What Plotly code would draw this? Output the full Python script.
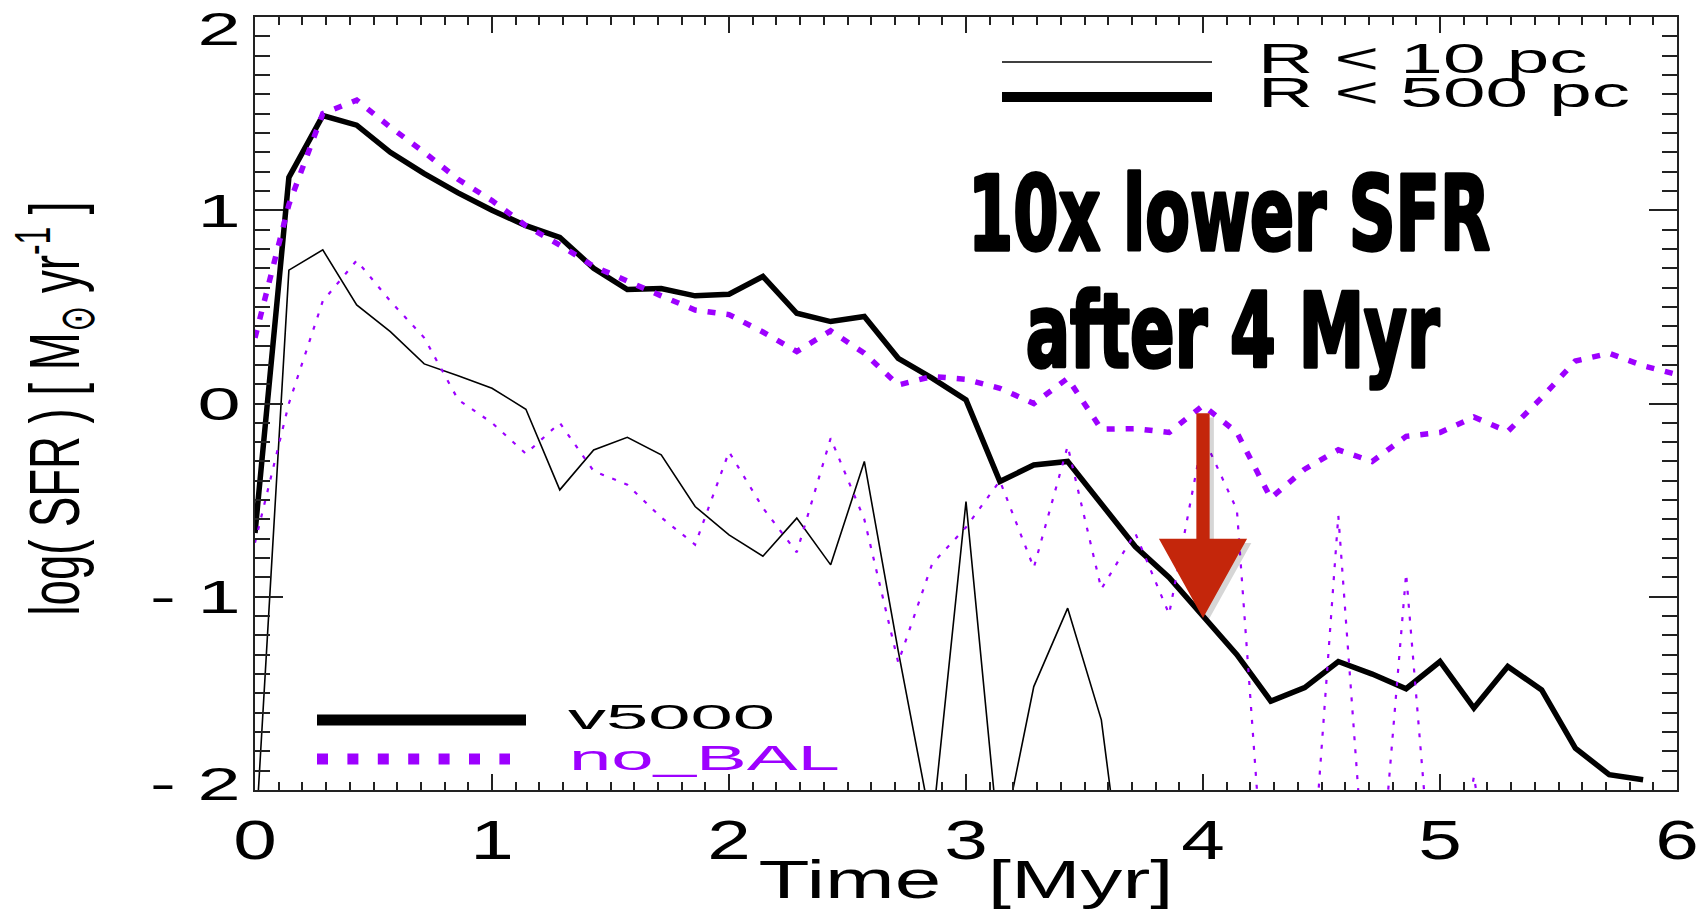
import json
import plotly.graph_objects as go

# ---------------- data ----------------
time_myr = [0.000, 0.143, 0.286, 0.429, 0.571, 0.714, 0.857, 1.000, 1.143, 1.286,
            1.429, 1.571, 1.714, 1.857, 2.000, 2.143, 2.286, 2.429, 2.571, 2.714,
            2.857, 3.000, 3.143, 3.286, 3.429, 3.571, 3.714, 3.857, 4.000, 4.143,
            4.286, 4.429, 4.571, 4.714, 4.857, 5.000, 5.143, 5.286, 5.429, 5.571,
            5.714, 5.857, 6.000]

# v5000, R < 500 pc (thick black)
v5000_r500 = [-0.67, 1.17, 1.49, 1.44, 1.30, 1.19, 1.09, 1.00, 0.92, 0.86,
              0.70, 0.59, 0.595, 0.557, 0.565, 0.657, 0.467, 0.424, 0.45, 0.234,
              0.131, 0.019, -0.404, -0.318, -0.30, -0.52, -0.74, -0.90, -1.10, -1.30,
              -1.54, -1.47, -1.335, -1.40, -1.476, -1.335, -1.576, -1.361, -1.482, -1.783,
              -1.921, -1.947]

# v5000, R < 10 pc (thin black) -- values below -2 fall off the chart
v5000_r10 = [-2.3, 0.69, 0.795, 0.51, 0.372, 0.205, 0.143, 0.079, -0.03, -0.447,
             -0.24, -0.175, -0.266, -0.533, -0.68, -0.79, -0.593, -0.835, -0.30, -1.28,
             -2.2, -0.507, -2.33, -1.465, -1.059, -1.637, -3.0]

# no_BAL, R < 500 pc (thick purple dotted)
nobal_r500 = [0.34, 1.03, 1.50, 1.57, 1.43, 1.30, 1.16, 1.05, 0.92, 0.82,
              0.71, 0.63, 0.557, 0.484, 0.46, 0.37, 0.269, 0.376, 0.26, 0.096,
              0.14, 0.125, 0.079, 0.0, 0.13, -0.133, -0.13, -0.15, -0.01, -0.15,
              -0.49, -0.34, -0.24, -0.30, -0.17, -0.15, -0.07, -0.145, 0.03, 0.22,
              0.26, 0.195, 0.15]

# no_BAL, R < 10 pc (thin purple dotted)
nobal_r10 = [-0.72, 0.0, 0.53, 0.74, 0.53, 0.34, 0.02, -0.10, -0.26, -0.10,
             -0.35, -0.42, -0.59, -0.73, -0.25, -0.54, -0.77, -0.18, -0.60, -1.34,
             -0.83, -0.64, -0.40, -0.85, -0.22, -0.96, -0.67, -1.09, -0.17, -0.55,
             -3.0, -3.0, -0.58, -3.0, -0.88, -3.0, -1.93, -3.0, -3.0, -3.0,
             -3.0, -3.0, -3.0]

x_ticks = [0, 1, 2, 3, 4, 5, 6]
x_ticktext = ["0", "1", "2", "3", "4", "5", "6"]
y_ticks = [-2, -1, 0, 1, 2]
y_ticktext = ["- 2", "- 1", "0", "1", "2"]

# ---------------- styles ----------------
PURPLE = "#9d00ff"
AX = "#222222"
FONT = "Liberation Sans, Arial, Helvetica, sans-serif"
BIG = "Liberation Sans Narrow, DejaVu Sans Condensed, Liberation Sans, sans-serif"

W, H = 1705, 909
L, R, T, B = 255, 28, 17, 119
PW, PH = W - L - R, H - T - B


def px(x):
    return (x - L) / PW


def py(y):
    return (H - B - y) / PH


fig = go.Figure()
fig.add_trace(go.Scatter(x=time_myr[:len(v5000_r10)], y=v5000_r10, mode="lines",
                         line=dict(color="black", width=1.6), name="v5000 R<10pc"))
fig.add_trace(go.Scatter(x=time_myr[:len(v5000_r500)], y=v5000_r500, mode="lines",
                         line=dict(color="black", width=5.5), name="v5000 R<500pc"))
fig.add_trace(go.Scatter(x=time_myr[:len(nobal_r10)], y=nobal_r10, mode="lines",
                         line=dict(color=PURPLE, width=2.2, dash="4px,9px"),
                         name="no_BAL R<10pc"))
fig.add_trace(go.Scatter(x=time_myr[:len(nobal_r500)], y=nobal_r500, mode="lines",
                         line=dict(color=PURPLE, width=5.5, dash="8px,11px"),
                         name="no_BAL R<500pc"))

shapes = []
# top-right legend lines
shapes.append(dict(type="line", xref="paper", yref="paper", x0=px(1002), x1=px(1212),
                   y0=py(62), y1=py(62), line=dict(color="black", width=1.6)))
shapes.append(dict(type="line", xref="paper", yref="paper", x0=px(1002), x1=px(1212),
                   y0=py(97), y1=py(97), line=dict(color="black", width=10)))
# bottom-left legend lines
shapes.append(dict(type="line", xref="paper", yref="paper", x0=px(317), x1=px(526),
                   y0=py(720), y1=py(720), line=dict(color="black", width=11)))
shapes.append(dict(type="line", xref="paper", yref="paper", x0=px(317), x1=px(510),
                   y0=py(759), y1=py(759), line=dict(color=PURPLE, width=11, dash="11px,19.4px")))

# red arrow (with a soft offset shadow) pointing to t = 4 Myr
ax_c, hw, hh = 4.0, 0.028, 0.186
y_top, y_base, y_tip = -0.05, -0.70, -1.11


def arrow_path(dx=0.0, dy=0.0):
    pts = [(ax_c - hw, y_top), (ax_c + hw, y_top), (ax_c + hw, y_base), (ax_c + hh, y_base),
           (ax_c, y_tip), (ax_c - hh, y_base), (ax_c - hw, y_base)]
    return "M " + " L ".join(f"{x + dx:.4f},{y + dy:.4f}" for x, y in pts) + " Z"


shapes.append(dict(type="path", xref="x", yref="y", path=arrow_path(0.018, -0.022),
                   fillcolor="rgba(0,0,0,0.16)", line=dict(width=0)))
shapes.append(dict(type="path", xref="x", yref="y", path=arrow_path(),
                   fillcolor="#c4260b", line=dict(width=0)))

annotations = [
    dict(text="R &lt; 10 pc<br>R &lt; 500 pc", xref="paper", yref="paper",
         x=px(1256), y=py(32.5), xanchor="left", yanchor="top", align="left",
         showarrow=False, font=dict(family=FONT, size=42, color="black")),
    dict(text="v5000", xref="paper", yref="paper", x=px(566), y=py(716),
         xanchor="left", yanchor="middle", showarrow=False,
         font=dict(family=FONT, size=36, color="black")),
    dict(text="no_BAL", xref="paper", yref="paper", x=px(567), y=py(757),
         xanchor="left", yanchor="middle", showarrow=False,
         font=dict(family=FONT, size=35, color=PURPLE)),
    dict(text="10x lower SFR", xref="paper", yref="paper", x=px(1229), y=py(214),
         xanchor="center", yanchor="middle", showarrow=False,
         font=dict(family=BIG, size=103, color="black", weight="bold")),
    dict(text="after 4 Myr", xref="paper", yref="paper", x=px(1232), y=py(331),
         xanchor="center", yanchor="middle", showarrow=False,
         font=dict(family=BIG, size=103, color="black", weight="bold")),
]

axis_common = dict(showline=True, linewidth=2, linecolor=AX, mirror="allticks",
                   ticks="inside", tickwidth=2, tickcolor=AX, showgrid=False,
                   zeroline=False, tickmode="array", ticklabeloverflow="allow",
                   automargin=False)

fig.update_layout(
    width=W, height=H, autosize=False,
    margin=dict(l=L, r=R, t=T, b=B, pad=0, autoexpand=False),
    paper_bgcolor="white", plot_bgcolor="white", showlegend=False,
    xaxis=dict(range=[0, 6], tickvals=x_ticks, ticktext=x_ticktext, ticklen=16,
               minor=dict(dtick=0.1, ticks="inside", ticklen=8, tickwidth=2, tickcolor=AX),
               tickfont=dict(family=FONT, size=56, color="black"),
               title=dict(text="Time &nbsp;[Myr]", standoff=0,
                          font=dict(family=FONT, size=53, color="black")),
               **axis_common),
    yaxis=dict(range=[-2, 2], tickvals=y_ticks, ticktext=y_ticktext, ticklen=28,
               minor=dict(dtick=0.1, ticks="inside", ticklen=15, tickwidth=2, tickcolor=AX),
               tickfont=dict(family=FONT, size=47, color="black"),
               title=dict(text="log( SFR ) [ M<sub>⊙</sub> yr<sup>-1</sup> ]", standoff=40,
                          font=dict(family=FONT, size=45.5, color="black")),
               **axis_common),
    shapes=shapes, annotations=annotations,
)

# horizontal stretch of the text, as in the (horizontally stretched) original figure
targets = {
    "v5000": [207, "l"],
    "no_BAL": [271, "l"],
    "10x lower SFR": [522, "c"],
    "after 4 Myr": [414, "c"],
}
bold_texts = ["10x lower SFR", "after 4 Myr"]
post = """
var gd = document.getElementById('{plot_id}');
var T = %s;
var BOLD = %s;
function stretchEl(el, sx, sy, mode){
  var b = el.getBBox();
  var cx = (mode === 'l') ? b.x : ((mode === 'r') ? b.x + b.width : b.x + b.width / 2);
  var cy = b.y + b.height / 2;
  var t = el.getAttribute('transform') || '';
  el.setAttribute('transform', t + ' translate(' + cx + ' ' + cy + ') scale(' + sx + ' ' + sy + ') translate(' + (-cx) + ' ' + (-cy) + ')');
}
function shiftEl(el, dx, dy){
  var t = el.getAttribute('transform') || '';
  el.setAttribute('transform', 'translate(' + dx + ' ' + dy + ') ' + t);
}
gd.querySelectorAll('.annotation-text').forEach(function(el){
  var k = el.textContent.replace(/\\u00a0/g, ' ').trim();
  if (k.indexOf('R <') === 0) {
    var lines = el.querySelectorAll('tspan.line');
    if (lines.length > 1) { lines[1].setAttribute('dy', '34.3'); }
    var b0 = el.getBBox(); stretchEl(el, 372 / b0.width, 1, 'l');
    return;
  }
  if (T[k]) { var b = el.getBBox(); stretchEl(el, T[k][0] / b.width, 1, T[k][1]); }
  if (BOLD.indexOf(k) >= 0) {
    el.style.stroke = 'black'; el.style.strokeWidth = '3.5px'; el.style.strokeLinejoin = 'round';
  }
});
gd.querySelectorAll('.xtick text').forEach(function(el){ stretchEl(el, 1.4, 1, 'c'); shiftEl(el, 0, 0); });
gd.querySelectorAll('.ytick text').forEach(function(el){
  stretchEl(el, 1.65, 1, 'r');
  var k = el.textContent.replace(/\\u00a0/g, ' ').trim();
  if (k === '2') shiftEl(el, -3, 12);
  else if (k === '- 2') shiftEl(el, -3, -6);
  else shiftEl(el, -3, 0);
});
var xt = gd.querySelector('.xtitle');
if (xt) { var b = xt.getBBox(); stretchEl(xt, 415 / b.width, 1, 'c'); }
var yt = gd.querySelector('.ytitle');
if (yt) { stretchEl(yt, 1, 1.55, 'c'); shiftEl(yt, -63, 5); }
""" % (json.dumps(targets), json.dumps(bold_texts))

fig.write_html("out.html", config={"staticPlot": True}, post_script=post)
